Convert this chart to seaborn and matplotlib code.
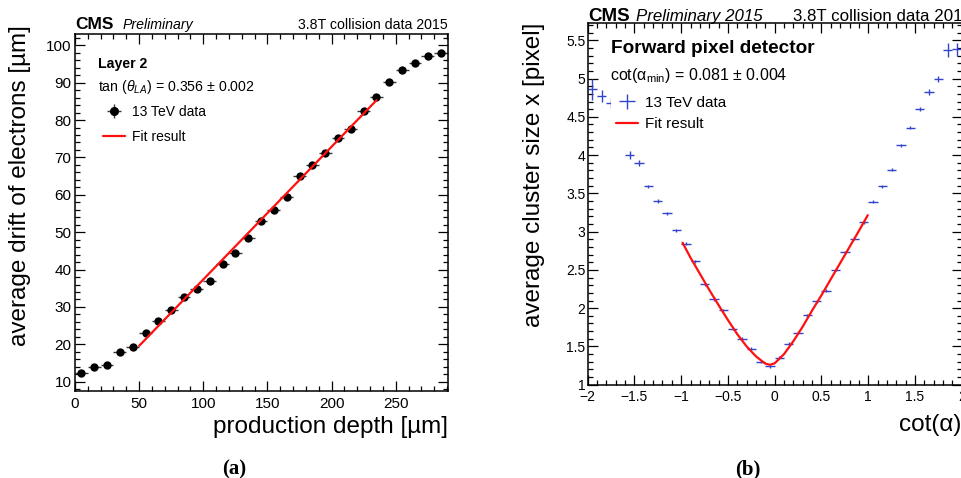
import numpy as np
import pandas as pd
import matplotlib
matplotlib.use("Agg")
import matplotlib.pyplot as plt
from matplotlib.ticker import MultipleLocator
import seaborn as sns

# ---------------- data: panel (a) ----------------
depth = [5, 15, 25, 35, 45, 55, 65, 75, 85, 95, 105, 115, 125, 135, 145,
         155, 165, 175, 185, 195, 205, 215, 225, 235, 245, 255, 265, 275, 285]
drift = [12.3, 13.85, 14.55, 17.9, 19.35, 23.1, 26.3, 29.2, 32.7, 34.8, 36.9, 41.4, 44.5, 48.4, 52.9,
         56.0, 59.4, 65.0, 68.0, 71.3, 75.1, 77.7, 82.5, 86.1, 90.2, 93.5, 95.3, 97.1, 97.9]
depth_err = 5.0
drift_err = 0.3
fit_a_x = [50, 235]
fit_a_y = [19.6, 85.3]

# ---------------- data: panel (b) ----------------
cot_alpha = [-1.95, -1.85, -1.75, -1.55, -1.45, -1.35, -1.25, -1.15, -1.05, -0.95,
             -0.85, -0.75, -0.65, -0.55, -0.45, -0.35, -0.25, -0.15, -0.05, 0.05,
             0.15, 0.25, 0.35, 0.45, 0.55, 0.65, 0.75, 0.85, 0.95, 1.05,
             1.15, 1.25, 1.35, 1.45, 1.55, 1.65, 1.75, 1.85, 1.95]
cluster = [4.86, 4.77, 4.68, 4.00, 3.90, 3.59, 3.40, 3.24, 3.02, 2.84,
           2.61, 2.31, 2.12, 1.97, 1.73, 1.60, 1.47, 1.30, 1.24, 1.35,
           1.535, 1.68, 1.905, 2.09, 2.23, 2.50, 2.73, 2.91, 3.12, 3.39,
           3.59, 3.81, 4.13, 4.36, 4.60, 4.825, 5.00, 5.37, 5.38]
cluster_err = [0.14, 0.08, 0.06, 0.05, 0.04, 0.02, 0.02, 0.02, 0.02, 0.02,
               0.02, 0.02, 0.02, 0.02, 0.02, 0.02, 0.02, 0.02, 0.02, 0.02,
               0.02, 0.02, 0.02, 0.02, 0.02, 0.02, 0.02, 0.02, 0.02, 0.02,
               0.02, 0.02, 0.02, 0.02, 0.03, 0.04, 0.04, 0.09, 0.09]
cot_err = 0.05
fit_b_x = [-0.985, -0.9, -0.8, -0.7, -0.6, -0.5, -0.4, -0.3, -0.2, -0.1, -0.05,
           0.0, 0.1, 0.2, 0.3, 0.4, 0.5, 0.6, 0.7, 0.8, 0.9, 0.995]
fit_b_y = [2.855, 2.66, 2.45, 2.24, 2.04, 1.845, 1.66, 1.50, 1.37, 1.275, 1.26,
           1.28, 1.40, 1.57, 1.76, 1.97, 2.17, 2.38, 2.59, 2.80, 3.01, 3.215]

df_a = pd.DataFrame({"depth": depth, "drift": drift})
df_fa = pd.DataFrame({"x": fit_a_x, "y": fit_a_y})
df_b = pd.DataFrame({"cot": cot_alpha, "size": cluster})
df_fb = pd.DataFrame({"x": fit_b_x, "y": fit_b_y})

sns.set_theme(style="ticks")
plt.rcParams["font.family"] = ["Liberation Sans", "DejaVu Sans"]
plt.rcParams["mathtext.fontset"] = "custom"
plt.rcParams["mathtext.rm"] = "Liberation Sans"
plt.rcParams["mathtext.it"] = "Liberation Sans:italic"
plt.rcParams["mathtext.bf"] = "Liberation Sans:bold"
plt.rcParams["axes.edgecolor"] = "black"
plt.rcParams["xtick.color"] = "black"
plt.rcParams["ytick.color"] = "black"
plt.rcParams["text.color"] = "black"
plt.rcParams["axes.labelcolor"] = "black"

W, H = 962, 478
fig = plt.figure(figsize=(W / 100, H / 100), dpi=100)
fig.patch.set_facecolor("white")

def px_axes(l, t, r, b):
    return fig.add_axes([l / W, 1 - b / H, (r - l) / W, (b - t) / H])

ax_a = px_axes(75, 33.7, 447.7, 390.7)
ax_b = px_axes(587.6, 22.7, 961.8, 384.7)

def style_axes(ax, lab_size, xpad, ypad):
    for s in ax.spines.values():
        s.set_linewidth(1.1)
        s.set_color("black")
    ax.tick_params(which="both", direction="in", top=True, right=True,
                   width=0.9, colors="black")
    ax.tick_params(which="major", length=7)
    ax.tick_params(which="minor", length=3.6)
    ax.tick_params(axis="x", which="major", labelsize=lab_size, pad=xpad)
    ax.tick_params(axis="y", which="major", labelsize=lab_size, pad=ypad)
    ax.set_facecolor("white")

# ---------------- panel (a) ----------------
ax_a.errorbar(depth, drift, xerr=depth_err, yerr=drift_err, fmt="none",
              ecolor="#3a3a3a", elinewidth=1.0, capsize=0, zorder=2)
sns.scatterplot(data=df_a, x="depth", y="drift", ax=ax_a, color="black",
                s=36, edgecolor="black", linewidth=0, zorder=3, legend=False)
sns.lineplot(data=df_fa, x="x", y="y", ax=ax_a, color="#ff1010", lw=1.6,
             zorder=4, legend=False)
ax_a.set_xlim(0, 290.5)
ax_a.set_ylim(7.6, 103.1)
ax_a.xaxis.set_major_locator(MultipleLocator(50))
ax_a.xaxis.set_minor_locator(MultipleLocator(10))
ax_a.yaxis.set_major_locator(MultipleLocator(10))
ax_a.yaxis.set_minor_locator(MultipleLocator(2))
style_axes(ax_a, 11, 4.5, 2.5)
ax_a.set_xlabel("production depth [µm]", fontsize=17.5, loc="right")
ax_a.xaxis.set_label_coords(1.0, -0.072)
ax_a.set_ylabel("average drift of electrons [µm]", fontsize=17.5, loc="top")
ax_a.yaxis.set_label_coords(-0.118, 1.024)

from matplotlib.lines import Line2D
h_data_a = ax_a.errorbar([], [], xerr=[], yerr=[], fmt="o", color="black",
                         ecolor="#3a3a3a", ms=5.5, elinewidth=1.0)
h_fit_a = Line2D([], [], color="#ff1010", lw=1.6)
leg_a = ax_a.legend([h_data_a, h_fit_a], ["13 TeV data", "Fit result"],
                    loc="upper left", bbox_to_anchor=((103 - 75 - 4) / 372.7, 1 - (101 - 33.7) / 357),
                    borderaxespad=0, borderpad=0.3, frameon=False, fontsize=10,
                    handlelength=1.6, handletextpad=0.5, labelspacing=0.75)

def ftext(x, y, s, **kw):
    fig.text(x / W, 1 - y / H, s, **kw)

ftext(75, 29.3, "CMS", fontsize=12.5, fontweight="bold", va="baseline", ha="left")
ftext(123, 29.3, "Preliminary", fontsize=10.2, style="italic", va="baseline", ha="left")
ftext(447.5, 29.3, "3.8T collision data 2015", fontsize=10.2, va="baseline", ha="right")
ftext(98, 68.3, "Layer 2", fontsize=10.2, fontweight="bold", va="baseline", ha="left")
ftext(98, 90.7, r"tan ($\theta_{LA}$) = 0.356 $\pm$ 0.002", fontsize=10.2,
      va="baseline", ha="left")

# ---------------- panel (b) ----------------
ax_b.errorbar(cot_alpha, cluster, xerr=cot_err, yerr=cluster_err, fmt="none",
              ecolor="#3344cc", elinewidth=1.0, capsize=0, zorder=2)
sns.lineplot(data=df_fb, x="x", y="y", ax=ax_b, color="#ff1010", lw=1.6,
             zorder=4, legend=False)
ax_b.set_xlim(-2, 2)
ax_b.set_ylim(1, 5.73)
ax_b.xaxis.set_major_locator(MultipleLocator(0.5))
ax_b.xaxis.set_minor_locator(MultipleLocator(0.1))
ax_b.yaxis.set_major_locator(MultipleLocator(0.5))
ax_b.yaxis.set_minor_locator(MultipleLocator(0.1))
ax_b.xaxis.set_major_formatter(matplotlib.ticker.FuncFormatter(
    lambda v, p: ("%g" % v).replace("-", "\u2212")))
ax_b.yaxis.set_major_formatter(matplotlib.ticker.FuncFormatter(lambda v, p: "%g" % v))
style_axes(ax_b, 10, 3.5, 1.5)
ax_b.set_xlabel("cot(α)", fontsize=17.5, loc="right")
ax_b.xaxis.set_label_coords(1.0, -0.082)
ax_b.set_ylabel("average cluster size x [pixel]", fontsize=17.5, loc="top")
ax_b.yaxis.set_label_coords(-0.114, 1.0)

h_data_b = ax_b.errorbar([], [], xerr=[], yerr=[], fmt="none", ecolor="#3344cc",
                         elinewidth=1.0)
h_fit_b = Line2D([], [], color="#ff1010", lw=1.6)
leg_b = ax_b.legend([h_data_b, h_fit_b], ["13 TeV data", "Fit result"],
                    loc="upper left",
                    bbox_to_anchor=((611 - 587.6) / 374.2, (384.7 - 91) / 362),
                    borderaxespad=0, borderpad=0.3, frameon=True, fontsize=11,
                    handlelength=1.5, handletextpad=0.45, labelspacing=0.5,
                    fancybox=False)
leg_b.get_frame().set_facecolor("white")
leg_b.get_frame().set_edgecolor("none")
leg_b.get_frame().set_alpha(1.0)

ftext(588, 20.7, "CMS", fontsize=13.5, fontweight="bold", va="baseline", ha="left")
ftext(636, 20.7, "Preliminary 2015", fontsize=12.2, style="italic", va="baseline", ha="left")
ftext(793, 20.7, "3.8T collision data 2015", fontsize=12.2, va="baseline", ha="left")
ftext(611, 53.3, "Forward pixel detector", fontsize=13.7, fontweight="bold",
      va="baseline", ha="left")
ftext(610, 80, r"cot(α$_{\mathrm{min}}$) = 0.081 $\pm$ 0.004", fontsize=11.5,
      va="baseline", ha="left")

# sub-figure labels
ftext(233.7, 469, "(a)", fontsize=15, fontweight="bold", va="center", ha="center",
      family=["Liberation Serif", "DejaVu Serif"])
ftext(747.5, 469, "(b)", fontsize=15, fontweight="bold", va="center", ha="center",
      family=["Liberation Serif", "DejaVu Serif"])

fig.savefig("out.png", dpi=100, facecolor="white")
